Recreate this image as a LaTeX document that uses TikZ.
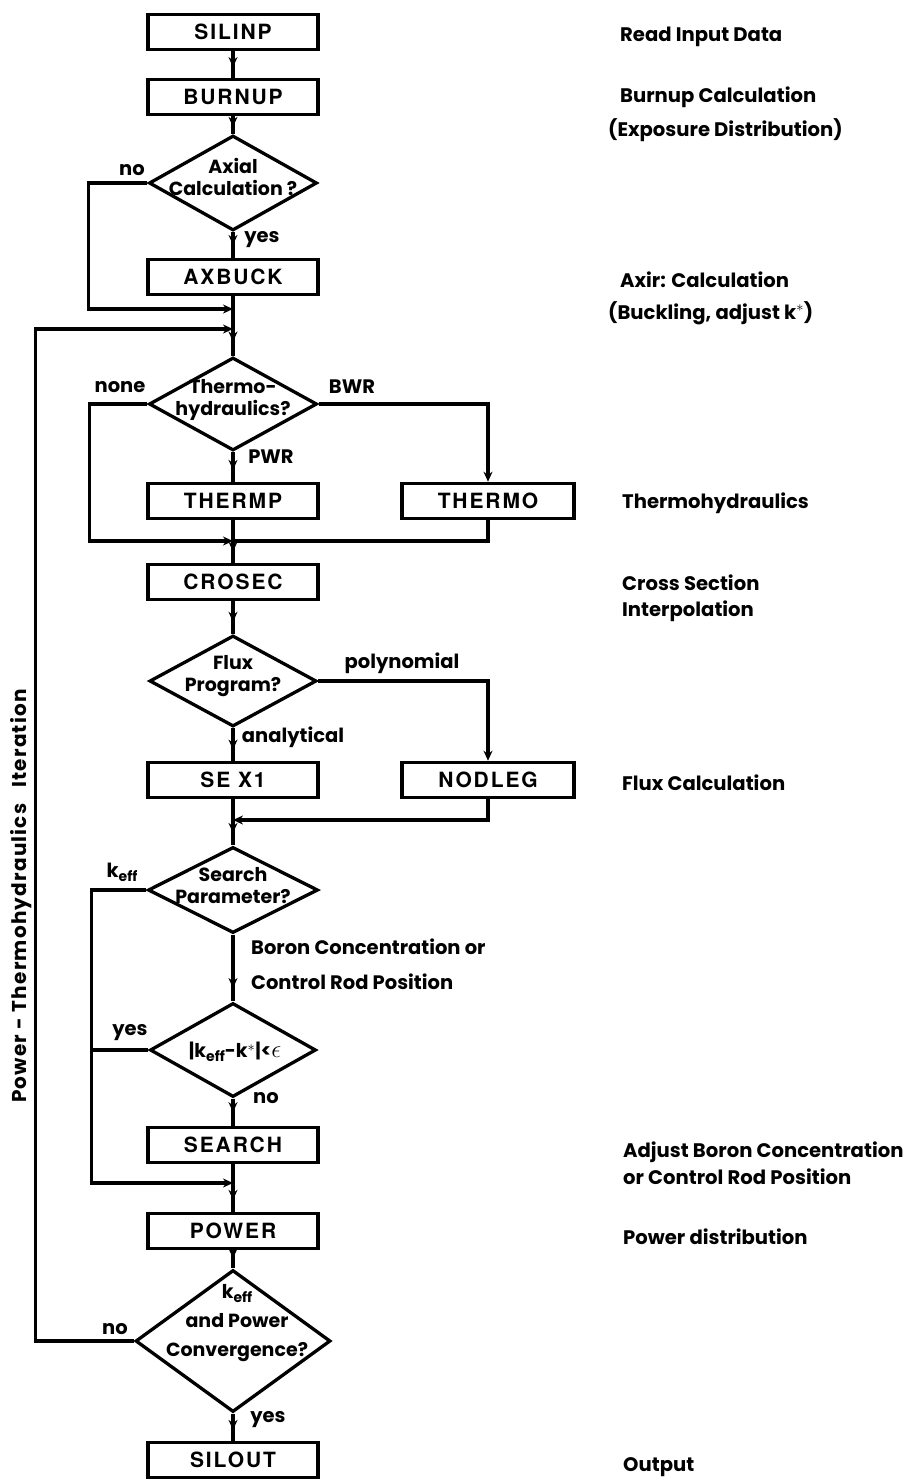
\documentclass[tikz,border=0pt]{standalone}
\usepackage{fontspec}
\setmainfont{Poppins}
\newfontfamily\boxfont[LetterSpace=9]{TeX Gyre Heros}
\usetikzlibrary{shapes.geometric,arrows.meta,decorations.markings}
\newcommand{\keff}{k\raisebox{-0.35ex}{\fontsize{14}{15}\selectfont eff}}
\begin{document}
\begin{tikzpicture}[x=1pt,y=-1pt,
  proc/.style={draw,line width=3.6pt,minimum width=170pt,minimum height=35pt,inner sep=0pt,font=\boxfont\bfseries\fontsize{21}{23}\selectfont},
  dmd/.style={draw,diamond,line width=3.3pt,inner sep=0pt},
  dtxt/.style={font=\bfseries\fontsize{19}{22}\selectfont,align=center,inner sep=0pt},
  lbl/.style={font=\bfseries\fontsize{19.5}{21}\selectfont,inner sep=0pt},
  side/.style={font=\bfseries\fontsize{19.6}{22}\selectfont,anchor=west,inner sep=0pt,align=left},
  conn/.style={line width=3.2pt},
  tip/.style={-{Stealth[length=10pt,width=9pt]}},
  midarr/.style={postaction={decorate},decoration={markings,mark=at position #1 with {\arrow{Stealth[length=10pt,width=9pt]}}}}
]
\useasboundingbox (0,0) rectangle (914,1480);
% main column
\node[proc] (sil) at (233,32) {SILINP};
\node[proc] (bur) at (233,97) {BURNUP};
\node[dmd,minimum width=168pt,minimum height=95pt] (ax) at (233,183) {};
\node[proc] (axb) at (233,277) {AXBUCK};
\node[dmd,minimum width=168pt,minimum height=93pt] (th) at (233,404) {};
\node[proc] (tp) at (233,501) {THERMP};
\node[proc,minimum width=172pt] (tm) at (488,501) {THERMO};
\node[proc] (cro) at (233,582) {CROSEC};
\node[dmd,minimum width=167pt,minimum height=91pt] (fl) at (233,681) {};
\node[proc] (sx) at (233,780) {SE X1};
\node[proc,minimum width=172pt] (nd) at (488,780) {NODLEG};
\node[dmd,minimum width=170pt,minimum height=86pt] (sp) at (233,890) {};
\node[dmd,minimum width=166pt,minimum height=94pt] (kk) at (233,1050) {};
\node[proc] (sr) at (233,1145) {SEARCH};
\node[proc] (pw) at (233,1231) {POWER};
\node[dmd,minimum width=195pt,minimum height=142pt] (cv) at (233,1341) {};
\node[proc] (so) at (233,1460) {SILOUT};
% diamond texts
\node[dtxt] (axt) at (233,177) {Axial\\Calculation ?};
\node[dtxt] (tht) at (233,400) {Thermo-\\hydraulics?};
\node[dtxt] (flt) at (233,676) {Flux\\Program?};
\node[dtxt] (spt) at (233,886) {Search\\Parameter?};
\node[dtxt] (kkt) at (235,1052) {|\keff-k$^{*}$|{<}{\fontsize{27}{27}\selectfont$\epsilon$}};
\node[dtxt,font=\bfseries\fontsize{19}{29}\selectfont] (cvt) at (237,1323) {\keff\\and Power\\Convergence?};
% junctions
\coordinate (j1) at (233,309);
\coordinate (j2) at (233,329);
\coordinate (j3) at (233,541);
\coordinate (j4) at (233,820);
\coordinate (j5) at (233,1183);
% connectors
\draw[conn,midarr=0.6] (sil) -- (bur);
\draw[conn,midarr=0.6] (bur) -- (ax.north);
\draw[conn,midarr=0.5] (ax.south) -- (axb.north);
\draw[conn,tip] (ax.west) -- ++(-59,0) |- (j1);
\draw[conn,midarr=0.76] (axb.south) -- (th.north);
\draw[conn,tip] (cv.west) -- ++(-98.5,0) |- (j2);
\draw[conn,tip] (th.west) -- ++(-58,0) |- (j3);
\draw[conn,tip] (th.east) -| (tm.north);
\draw[conn,midarr=0.6] (th.south) -- (tp.north);
\draw[conn] (tm.south) |- (j3);
\draw[conn,midarr=0.74] (tp.south) -- (cro.north);
\draw[conn,midarr=0.63] (cro.south) -- (fl.north);
\draw[conn,tip] (fl.east) -| (nd.north);
\draw[conn,midarr=0.66] (fl.south) -- (sx.north);
\draw[conn,tip] (nd.south) |- (j4);
\draw[conn,midarr=0.73] (sx.south) -- (sp.north);
\draw[conn,tip] (sp.west) -- ++(-55,0) |- (j5);
\draw[conn,midarr=0.8] (sp.south) -- (kk.north);
\draw[conn] (kk.west) -- ++(-57,0);
\draw[conn,midarr=0.5] (kk.south) -- (sr.north);
\draw[conn,midarr=0.75] (sr.south) -- (pw.north);
\draw[conn,midarr=0.45] (pw.south) -- (cv.north);
\draw[conn,midarr=0.6] (cv.south) -- (so.north);
% branch labels
\node[lbl] (l1) at (132,170) {no};
\node[lbl] (l2) at (262,240) {yes};
\node[lbl] (l3) at (120,387) {none};
\node[lbl] (l4) at (352,387) {BWR};
\node[lbl] (l5) at (271,457) {PWR};
\node[lbl] (l6) at (402,663) {polynomial};
\node[lbl] (l7) at (293,737) {analytical};
\node[lbl] (l8) at (122,872) {\keff};
\node[lbl,anchor=west] (l9) at (251,947) {Boron Concentration or};
\node[lbl,anchor=west] (l10) at (251,982) {Control Rod Position};
\node[lbl] (l11) at (130,1033) {yes};
\node[lbl] (l12) at (266,1098) {no};
\node[lbl] (l13) at (115,1329) {no};
\node[lbl] (l14) at (268,1420) {yes};
\node[lbl,rotate=90,font=\bfseries\fontsize{20}{22}\selectfont\addfontfeature{LetterSpace=6}] (loop) at (21,896) {Power - Thermohydraulics\hspace{16pt}Iteration};
% side descriptions
\node[side] (s1) at (620,37) {Read Input Data};
\node[side] (s2) at (620,97) {Burnup Calculation};
\node[side] (s3) at (608,130) {(Exposure Distribution)};
\node[side] (s4) at (620,280) {Axir: Calculation};
\node[side] (s5) at (608,313) {(Buckling, adjust k$^{*}$)};
\node[side] (s6) at (622,503) {Thermohydraulics};
\node[side] (s7) at (622,583) {Cross Section};
\node[side] (s8) at (622,611) {Interpolation};
\node[side] (s9) at (622,783) {Flux Calculation};
\node[side] (s10) at (623,1152) {Adjust Boron Concentration};
\node[side] (s11) at (623,1177) {or Control Rod Position};
\node[side] (s12) at (623,1237) {Power distribution};
\node[side] (s13) at (623,1467) {Output};
\end{tikzpicture}
\end{document}
